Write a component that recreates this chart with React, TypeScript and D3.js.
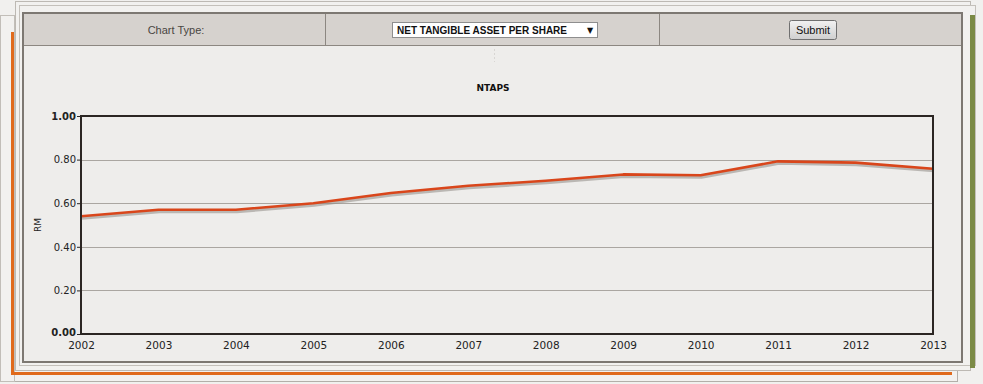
import { useEffect, useRef } from 'react';
import * as d3 from 'd3';

// NTAPS (RM) by year
const years = ['2002', '2003', '2004', '2005', '2006', '2007', '2008', '2009', '2010', '2011', '2012', '2013'];
const ntaps = [0.54, 0.57, 0.57, 0.60, 0.647, 0.68, 0.703, 0.732, 0.728, 0.792, 0.786, 0.758];
const yTicks = [0, 0.2, 0.4, 0.6, 0.8, 1.0];

const W = 983;
const H = 384;
const FONT = '"DejaVu Sans", Verdana, sans-serif';

export default function App() {
  const svgRef = useRef<SVGSVGElement>(null);

  useEffect(() => {
    if (!svgRef.current) return;
    const svg = d3.select(svgRef.current);
    svg.selectAll('*').remove();

    // page background
    svg.append('rect').attr('width', W).attr('height', H).attr('fill', '#f1f0ee');

    // stacked frames behind the panel
    const frame = (x: number, y: number, w: number, h: number, stroke: string) =>
      svg.append('rect')
        .attr('x', x + 0.5).attr('y', y + 0.5)
        .attr('width', w).attr('height', h)
        .attr('fill', '#f2f1ef').attr('stroke', stroke).attr('stroke-width', 1);

    frame(3, 22, 954, 359, '#b3afa9');
    frame(0, 15, 14, 366, '#c2beb8');
    // orange frame
    svg.append('rect').attr('x', 11).attr('y', 32).attr('width', 3).attr('height', 343).attr('fill', '#e06a1c');
    svg.append('rect').attr('x', 11).attr('y', 372).attr('width', 941).attr('height', 3).attr('fill', '#e06a1c');
    frame(15, 1, 955, 369, '#bdb9b3');
    frame(19, 5, 956, 360, '#c4c0ba');
    // olive strip at right
    svg.append('rect').attr('x', 970).attr('y', 15).attr('width', 5).attr('height', 353).attr('fill', '#7b8a45');

    // main panel
    svg.append('rect')
      .attr('x', 23).attr('y', 13).attr('width', 939).attr('height', 349)
      .attr('fill', '#eeedeb').attr('stroke', '#7d7872').attr('stroke-width', 2);

    // header row
    svg.append('rect').attr('x', 24).attr('y', 14).attr('width', 937).attr('height', 31).attr('fill', '#d6d2ce');
    svg.append('line').attr('x1', 24).attr('x2', 961).attr('y1', 45.5).attr('y2', 45.5)
      .attr('stroke', '#8c8781');
    [325.5, 659.5].forEach(x => {
      svg.append('line').attr('x1', x).attr('x2', x).attr('y1', 14).attr('y2', 45)
        .attr('stroke', '#8c8781');
    });

    svg.append('text')
      .attr('x', 176).attr('y', 34)
      .attr('text-anchor', 'middle')
      .style('font-family', 'Arial, "Liberation Sans", sans-serif')
      .style('font-size', '11px')
      .style('fill', '#4a4642')
      .text('Chart Type:');

    // dropdown
    svg.append('rect')
      .attr('x', 392.5).attr('y', 22.5).attr('width', 205).attr('height', 15)
      .attr('fill', '#ffffff').attr('stroke', '#8e8e8e');
    svg.append('text')
      .attr('x', 397).attr('y', 34)
      .style('font-family', 'Arial, "Liberation Sans", sans-serif')
      .style('font-size', '10px')
      .style('font-weight', 'bold')
      .style('fill', '#111')
      .text('NET TANGIBLE ASSET PER SHARE');
    svg.append('text')
      .attr('x', 590).attr('y', 33)
      .attr('text-anchor', 'middle')
      .style('font-family', FONT)
      .style('font-size', '8px')
      .style('fill', '#111')
      .text('▼');

    // submit button
    const grad = svg.append('defs').append('linearGradient')
      .attr('id', 'btn-grad').attr('x1', 0).attr('x2', 0).attr('y1', 0).attr('y2', 1);
    grad.append('stop').attr('offset', '0%').attr('stop-color', '#f2f2f2');
    grad.append('stop').attr('offset', '100%').attr('stop-color', '#cfcfcf');
    svg.append('rect')
      .attr('x', 789.5).attr('y', 20.5).attr('width', 47).attr('height', 19).attr('rx', 2)
      .attr('fill', 'url(#btn-grad)').attr('stroke', '#707070');
    svg.append('text')
      .attr('x', 813).attr('y', 34)
      .attr('text-anchor', 'middle')
      .style('font-family', 'Arial, "Liberation Sans", sans-serif')
      .style('font-size', '11px')
      .style('fill', '#111')
      .text('Submit');

    // faint marker below dropdown
    svg.append('line').attr('x1', 494.5).attr('x2', 494.5).attr('y1', 49).attr('y2', 62)
      .attr('stroke', '#d8d6d3').attr('stroke-dasharray', '2,2');

    // chart title
    svg.append('text')
      .attr('x', 493).attr('y', 91)
      .attr('text-anchor', 'middle')
      .style('font-family', FONT)
      .style('font-size', '9px')
      .style('font-weight', 'bold')
      .style('fill', '#111')
      .text('NTAPS');

    // plot area
    const margin = { left: 81, top: 116, right: 933, bottom: 334 };
    const x = d3.scalePoint<string>().domain(years).range([margin.left, margin.right]);
    const y = d3.scaleLinear().domain([0, 1]).range([margin.bottom, margin.top]);

    // gridlines
    svg.append('g')
      .selectAll('line')
      .data(yTicks.filter(t => t > 0 && t < 1))
      .join('line')
      .attr('x1', margin.left).attr('x2', margin.right)
      .attr('y1', d => Math.round(y(d)) + 0.5).attr('y2', d => Math.round(y(d)) + 0.5)
      .attr('stroke', '#aaa6a1').attr('stroke-width', 1);

    // y axis labels
    const yAxis = d3.axisLeft(y).tickValues(yTicks).tickFormat(d3.format('.2f')).tickSize(4).tickPadding(1);
    const yg = svg.append('g')
      .attr('transform', `translate(${margin.left},0)`)
      .call(yAxis);
    yg.select('.domain').remove();
    yg.selectAll('line').attr('stroke', '#2b2623');
    yg.selectAll('text')
      .style('font-family', FONT)
      .style('font-size', '10px')
      .style('fill', '#222')
      .style('font-weight', (d: any) => (d === 0 || d === 1 ? 'bold' : 'normal'));
    yg.selectAll('.tick')
      .filter((d: any) => d === 0)
      .select('text')
      .attr('dy', '0.1em');

    // x axis labels
    const xAxis = d3.axisBottom(x).tickSize(0).tickPadding(8);
    const xg = svg.append('g')
      .attr('transform', `translate(0,${margin.bottom})`)
      .call(xAxis);
    xg.select('.domain').remove();
    xg.selectAll('text')
      .style('font-family', FONT)
      .style('font-size', '10.5px')
      .style('fill', '#222');

    // y label
    svg.append('text')
      .attr('transform', `translate(41,${(margin.top + margin.bottom) / 2}) rotate(-90)`)
      .attr('text-anchor', 'middle')
      .style('font-family', FONT)
      .style('font-size', '9px')
      .style('fill', '#222')
      .text('RM');

    // series line with soft shadow
    const pts = years.map((yr, i) => ({ yr, v: ntaps[i] }));
    const line = d3.line<{ yr: string; v: number }>()
      .x(d => x(d.yr) as number)
      .y(d => y(d.v));

    svg.append('path')
      .datum(pts)
      .attr('d', line)
      .attr('transform', 'translate(1,2)')
      .attr('fill', 'none')
      .attr('stroke', '#8f8a85')
      .attr('stroke-opacity', 0.55)
      .attr('stroke-width', 3);

    svg.append('path')
      .datum(pts)
      .attr('d', line)
      .attr('fill', 'none')
      .attr('stroke', '#d9461b')
      .attr('stroke-width', 2.6)
      .attr('stroke-linejoin', 'round');

    // plot border
    svg.append('rect')
      .attr('x', margin.left).attr('y', margin.top)
      .attr('width', margin.right - margin.left).attr('height', margin.bottom - margin.top)
      .attr('fill', 'none').attr('stroke', '#2b2623').attr('stroke-width', 2);
  }, []);

  return (
    <div style={{ position: 'fixed', left: 0, top: 0 }}>
      <svg ref={svgRef} width={W} height={H} style={{ display: 'block' }} />
    </div>
  );
}
